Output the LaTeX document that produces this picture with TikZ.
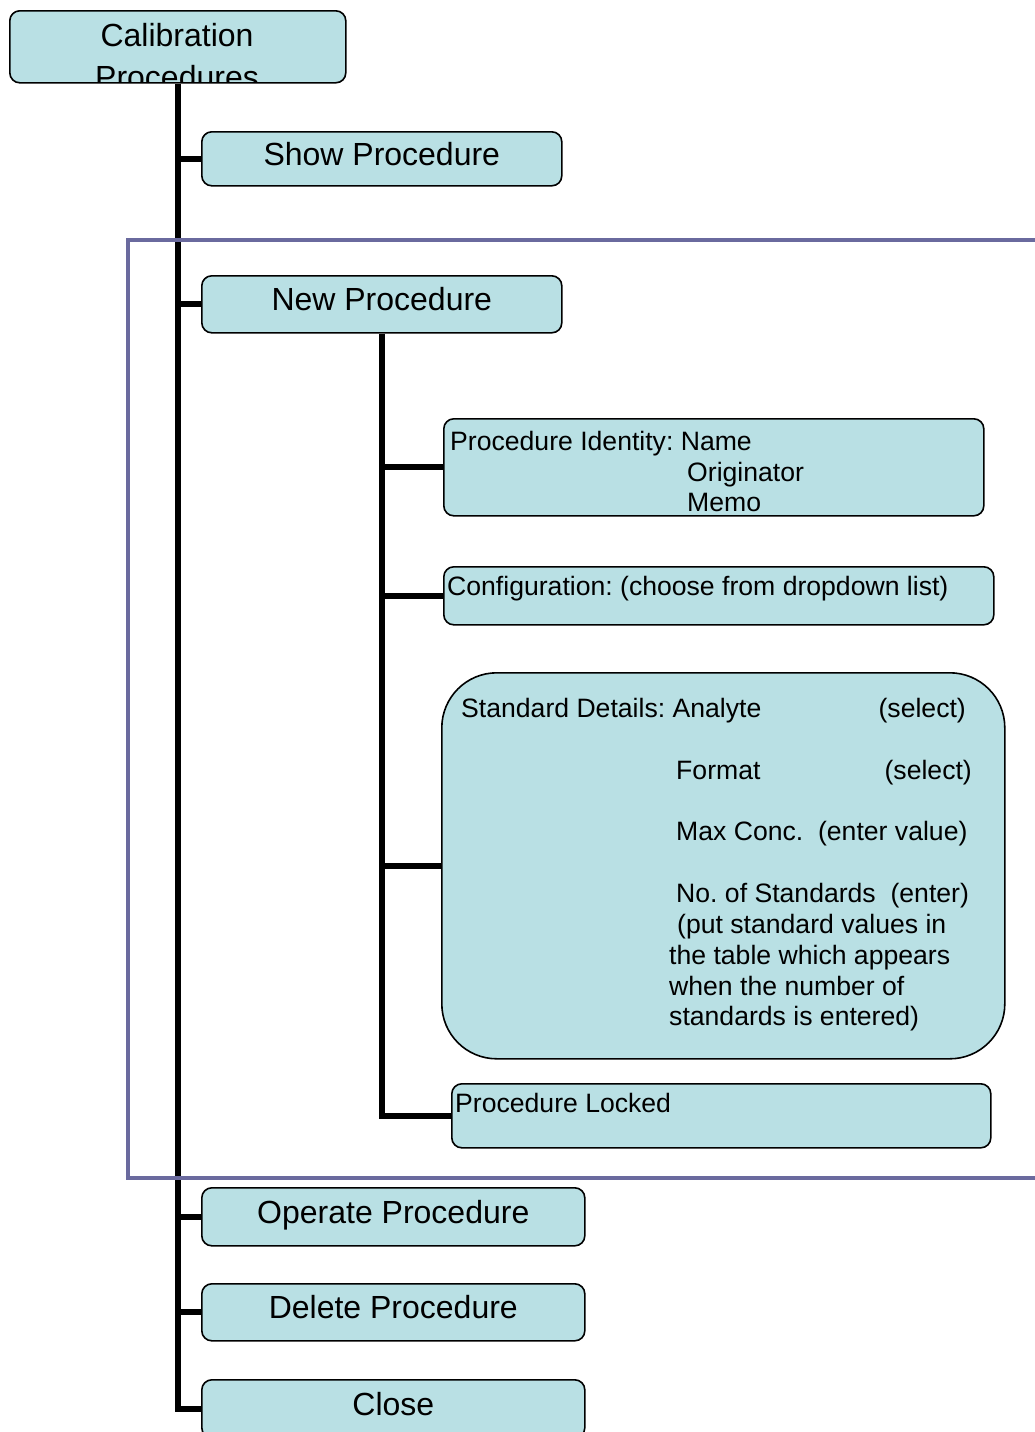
\documentclass[tikz,border=0pt]{standalone}
\usepackage{fontspec}
\setmainfont{Liberation Sans}
\definecolor{boxfill}{RGB}{185,224,228}
\definecolor{framepurple}{RGB}{106,106,158}

\begin{document}
\frenchspacing
\begin{tikzpicture}[x=1pt,y=-1pt,
  box/.style={draw=black, line width=1.6pt, fill=boxfill, rounded corners=10pt,
    inner sep=0pt, anchor=north west},
  bigtext/.style={font=\fontsize{32}{37}\selectfont, text height=22.5pt, text depth=10pt},
  smalltext/.style={font=\fontsize{26.6}{30.6}\selectfont, inner sep=0pt, anchor=base west},
  smallright/.style={smalltext, anchor=base east},
  trunk/.style={line width=6pt, line join=miter},
  group/.style={draw=framepurple, line width=4pt}]

\useasboundingbox (0,0) rectangle (1035,1432);
\clip (0,0) rectangle (1035,1432);

% top level menu
\node[box, minimum width=336pt, minimum height=72pt] (cp) at (9,10) {};
\begin{scope}
  \clip ([yshift=2.5pt]cp.south west) rectangle (cp.north east);
  \node[font=\fontsize{32}{37}\selectfont, inner sep=0pt, anchor=base] (cptop) at (177,46) {Calibration};
  \node[font=\fontsize{32}{37}\selectfont, inner sep=0pt, anchor=base] (cpbot) at (177,88) {Procedures};
\end{scope}

\node[box, bigtext, minimum width=360pt, minimum height=54pt] (show) at (201,131) {Show Procedure};
\node[box, bigtext, minimum width=360pt, minimum height=57pt] (new) at (201,275) {New Procedure};
\node[box, bigtext, minimum width=383pt, minimum height=58pt] (operate) at (201,1187) {Operate Procedure};
\node[box, bigtext, minimum width=383pt, minimum height=57pt] (delete) at (201,1283) {Delete Procedure};
\node[box, bigtext, minimum width=383pt, minimum height=58pt] (close) at (201,1379) {Close};

% sub menu of New Procedure
\node[box, minimum width=540pt, minimum height=97pt] (pi) at (443,418) {};
\node[smalltext] (pi1) at (450,450) {Procedure Identity: Name};
\node[smalltext] (pi2) at (687,481) {Originator};
\node[smalltext] (pi3) at (687,511) {Memo};

\node[box, minimum width=550pt, minimum height=58pt] (conf) at (443,566) {};
\node[smalltext] (conf1) at (447,595) {Configuration: (choose from dropdown list)};

\node[box, rounded corners=55pt, minimum width=563pt, minimum height=386pt] (sd) at (441,672) {};
\node[smalltext] (sd1) at (461,717.5) {Standard Details: Analyte};
\node[smallright] (sd1r) at (966,717.5) {(select)};
\node[smalltext] (sd2) at (676,779.5) {Format};
\node[smallright] (sd2r) at (972,779.5) {(select)};
\node[smalltext] (sd3) at (676,840.5) {Max Conc.\ \ (enter value)};
\node[smalltext] (sd4) at (676,902.5) {No. of Standards\ \ (enter)};
\node[smalltext] (sd5) at (677,933.5) {(put standard values in};
\node[smalltext] (sd6) at (669,964.5) {the table which appears};
\node[smalltext] (sd7) at (669,995.5) {when the number of};
\node[smalltext] (sd8) at (669,1025.5) {standards is entered)};

\node[box, minimum width=539pt, minimum height=64pt] (pl) at (451,1083) {};
\node[smalltext] (pl1) at (455,1112.5) {Procedure Locked};

% connectors
\draw[trunk] (cp.south) |- (close.west);
\foreach \n in {show,new,operate,delete}
  \draw[trunk] (cp.south |- \n.west) -- (\n.west);
\draw[trunk] (new.south) |- (pl.west);
\foreach \n in {pi,conf,sd}
  \draw[trunk] (new.south |- \n.west) -- (\n.west);

% frame around the New Procedure group
\draw[group] (128,240) rectangle (1045,1178);
\end{tikzpicture}
\end{document}
